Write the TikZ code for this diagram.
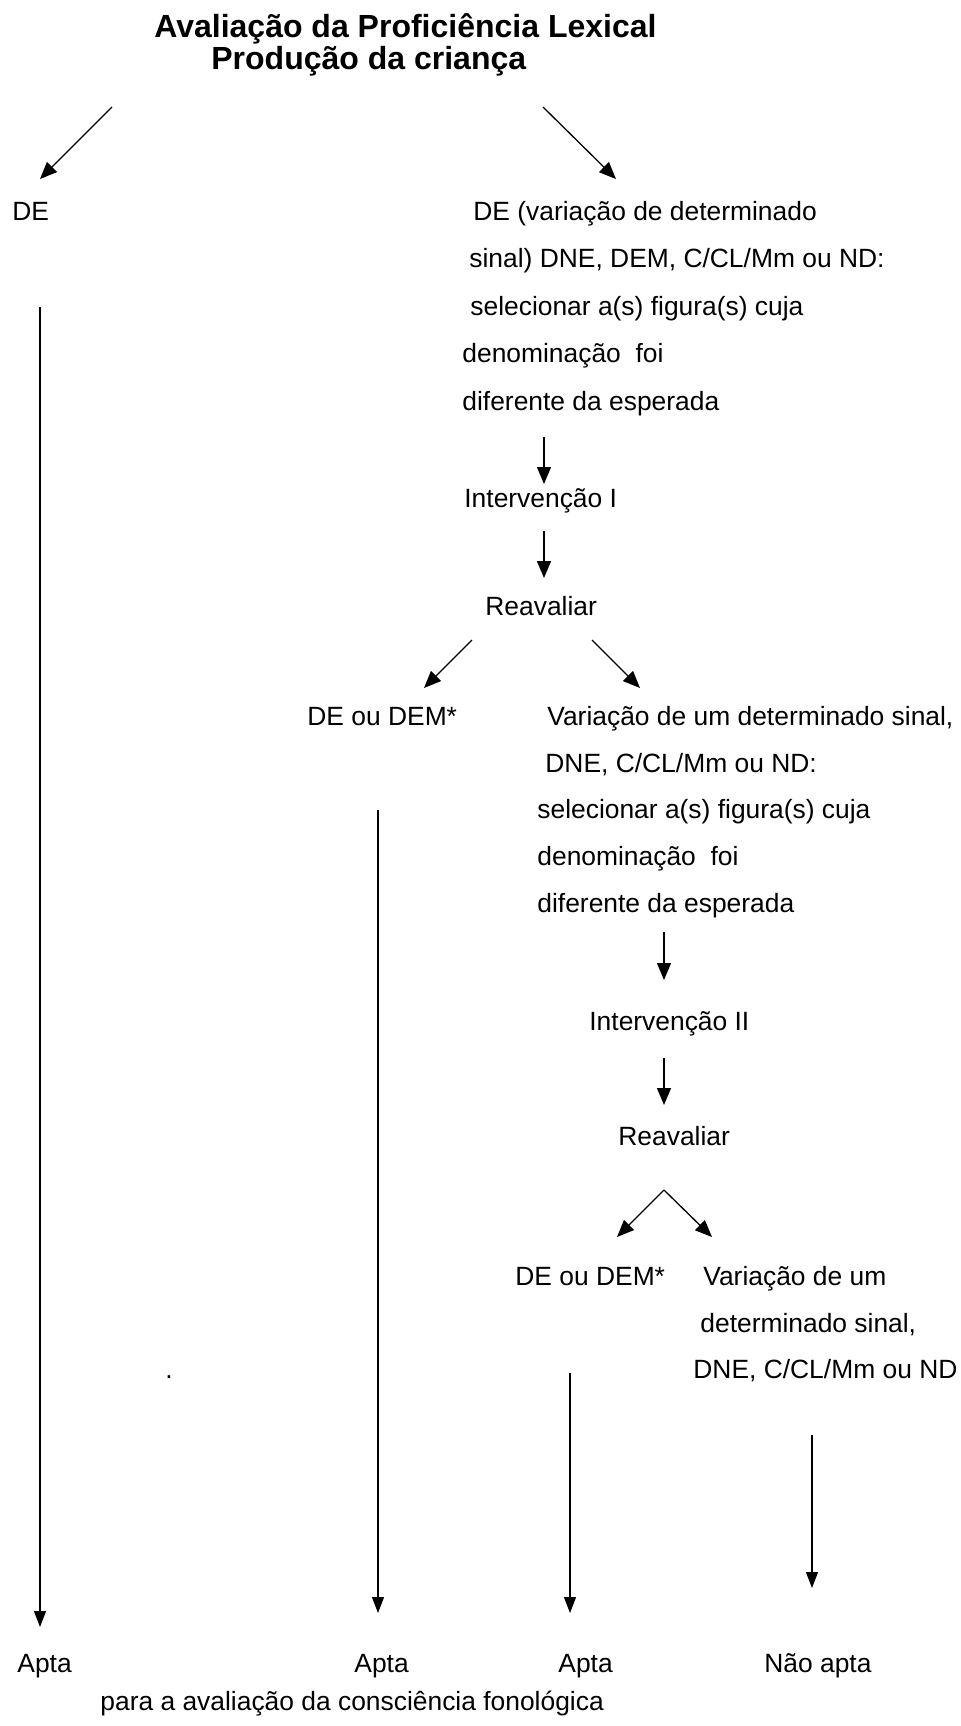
\documentclass[tikz,border=0pt]{standalone}
\usepackage{fontspec}
\setmainfont{Liberation Sans}
\usetikzlibrary{arrows.meta}
\begin{document}
\begin{tikzpicture}[x=0.5pt,y=-0.5pt,
  txt/.style={anchor=base west,inner sep=0pt,font=\fontsize{13.2pt}{15pt}\selectfont},
  ttl/.style={anchor=base west,inner sep=0pt,font=\fontsize{16pt}{18pt}\selectfont\bfseries},
  arr/.style={line width=0.65pt,-{Triangle[length=8.5pt,width=7pt]}},
  longarr/.style={line width=0.55pt,-{Triangle[length=8pt,width=6pt]}}]
\useasboundingbox (0,0) rectangle (960,1726);
% title
\node[ttl] (t1) at (154,37) {Avaliação da Proficiência Lexical};
\node[ttl] (t2) at (211,69) {Produção da criança};
% top arrows
\coordinate (a1s) at (112,107); \coordinate (a1e) at (40,179);
\coordinate (a2s) at (543,107); \coordinate (a2e) at (616,179);
\draw[arr] (a1s) -- (a1e);
\draw[arr] (a2s) -- (a2e);
% left branch
\node[txt] (de) at (12,220) {DE};
% right block 1
\node[txt] (r1a) at (473,220) {DE (variação de determinado};
\node[txt] (r1b) at (469,267.5) {sinal) DNE, DEM, C/CL/Mm ou ND:};
\node[txt] (r1c) at (470,315) {selecionar a(s) figura(s) cuja};
\node[txt] (r1d) at (462,362.5) {denominação\ \ foi};
\node[txt] (r1e) at (462,410) {diferente da esperada};
\coordinate (b1s) at (544,437); \coordinate (b1e) at (544,484);
\draw[arr] (b1s) -- (b1e);
\node[txt] (int1) at (464,507) {Intervenção I};
\coordinate (b2s) at (544,531); \coordinate (b2e) at (544,578);
\draw[arr] (b2s) -- (b2e);
\node[txt] (rea1) at (485,615) {Reavaliar};
\coordinate (c1s) at (472,640); \coordinate (c1e) at (424,688);
\coordinate (c2s) at (592,640); \coordinate (c2e) at (640,688);
\draw[arr] (c1s) -- (c1e);
\draw[arr] (c2s) -- (c2e);
% second level
\node[txt] (dem1) at (307,725) {DE ou DEM*};
\node[txt] (r2a) at (547,725) {Variação de um determinado sinal,};
\node[txt] (r2b) at (545,772) {DNE, C/CL/Mm ou ND:};
\node[txt] (r2c) at (537,818.5) {selecionar a(s) figura(s) cuja};
\node[txt] (r2d) at (537,865) {denominação\ \ foi};
\node[txt] (r2e) at (537,912) {diferente da esperada};
\coordinate (d1s) at (664,932); \coordinate (d1e) at (664,980);
\draw[arr] (d1s) -- (d1e);
\node[txt] (int2) at (589,1030) {Intervenção II};
\coordinate (d2s) at (664,1058); \coordinate (d2e) at (664,1105);
\draw[arr] (d2s) -- (d2e);
\node[txt] (rea2) at (618,1145) {Reavaliar};
\coordinate (apex) at (664,1190);
\coordinate (e1e) at (617,1237); \coordinate (e2e) at (712,1237);
\draw[arr] (apex) -- (e1e);
\draw[arr] (apex) -- (e2e);
% third level
\node[txt] (dem2) at (515,1285) {DE ou DEM*};
\node[txt] (r3a) at (703,1285) {Variação de um};
\node[txt] (r3b) at (700,1332) {determinado sinal,};
\node[txt] (r3c) at (693,1378) {DNE, C/CL/Mm ou ND};
\node[txt] (dot) at (165,1378) {.};
% long vertical arrows
\coordinate (l1s) at (40,307); \coordinate (l1e) at (40,1627);
\coordinate (l2s) at (378,810); \coordinate (l2e) at (378,1613);
\coordinate (l3s) at (570,1373); \coordinate (l3e) at (570,1613);
\coordinate (l4s) at (812,1435); \coordinate (l4e) at (812,1588);
\draw[longarr] (l1s) -- (l1e);
\draw[longarr] (l2s) -- (l2e);
\draw[longarr] (l3s) -- (l3e);
\draw[longarr] (l4s) -- (l4e);
% bottom labels
\node[txt] (ap1) at (17,1672) {Apta};
\node[txt] (ap2) at (354,1672) {Apta};
\node[txt] (ap3) at (558,1672) {Apta};
\node[txt] (nap) at (764,1672) {Não apta};
\node[txt] (para) at (100,1710) {para a avaliação da consciência fonológica};
\end{tikzpicture}
\end{document}
